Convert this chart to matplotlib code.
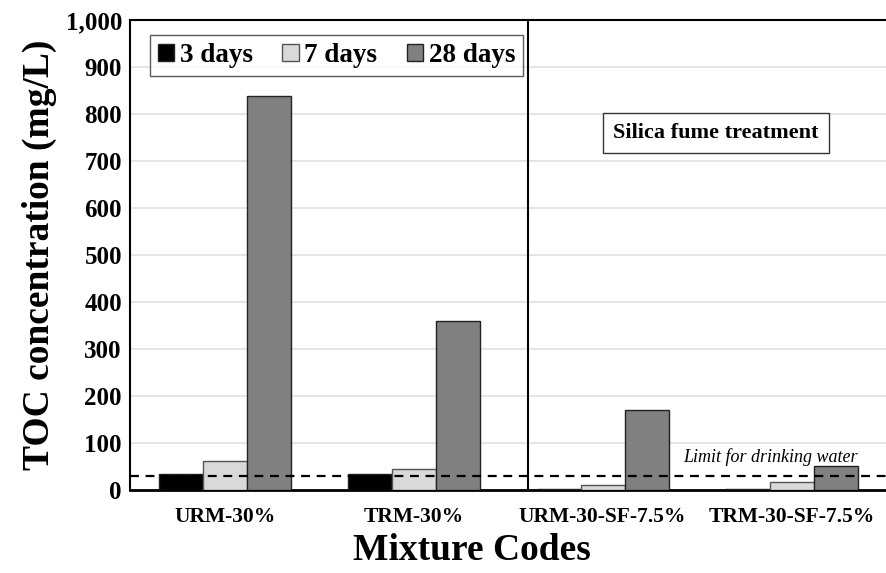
import numpy as np
import matplotlib.pyplot as plt

categories = ['URM-30%', 'TRM-30%', 'URM-30-SF-7.5%', 'TRM-30-SF-7.5%']
day3 = [34, 34, 2, 2]
day7 = [62, 45, 10, 17]
day28 = [838, 360, 170, 51]
limit = 30

plt.rcParams['font.family'] = ['Liberation Serif', 'DejaVu Serif']
plt.rcParams['font.weight'] = 'bold'
plt.rcParams['axes.labelweight'] = 'bold'

fig = plt.figure(figsize=(8.86, 5.73), dpi=100)
ax = fig.add_axes([0.147, 0.145, 0.853, 0.82])

x = np.arange(len(categories))
w = 0.233
ax.bar(x - w, day3, w, color='black', edgecolor='#222222', lw=1, label='3 days', zorder=3)
ax.bar(x, day7, w, color='#d9d9d9', edgecolor='#555555', lw=1, label='7 days', zorder=3)
ax.bar(x + w, day28, w, color='#808080', edgecolor='#222222', lw=1, label='28 days', zorder=3)

ax.axhline(limit, color='black', ls=(0, (4, 3)), lw=1.6, zorder=4)
ax.text(3.35, limit + 20, 'Limit for drinking water', style='italic', fontweight='normal',
        fontsize=13, ha='right', va='bottom')
ax.axvline(1.605, color='black', lw=1.5, zorder=4)

ax.text(2.6, 760, 'Silica fume treatment', fontsize=16, ha='center', va='center',
        bbox=dict(boxstyle='square,pad=0.45', fc='white', ec='#333333', lw=1))

ax.set_xlim(-0.5, 3.5)
ax.set_ylim(0, 1000)
ax.set_yticks(range(0, 1001, 100))
ax.set_yticklabels([f'{v:,}' for v in range(0, 1001, 100)], fontsize=18)
ax.set_xticks(x)
ax.set_xticklabels(categories, fontsize=15.5)
ax.tick_params(axis='x', length=0, pad=12)
ax.tick_params(axis='y', length=0, pad=6)
ax.yaxis.grid(True, color='#e0e0e0', lw=1.2, zorder=0)

ax.spines['right'].set_visible(False)
ax.spines['left'].set_linewidth(1.5)
ax.spines['top'].set_linewidth(1.5)
ax.spines['bottom'].set_linewidth(2)

ax.set_ylabel('TOC concentration (mg/L)', fontsize=27, labelpad=6)
fig.text(0.533, 0.04, 'Mixture Codes', fontsize=27, fontweight='bold', ha='center', va='center')

leg = ax.legend(loc='upper left', bbox_to_anchor=(0.026, 0.968), borderaxespad=0, ncol=3,
                fontsize=19.5, frameon=True, fancybox=False, edgecolor='#333333',
                handlelength=0.6, handleheight=0.6, handletextpad=0.2, columnspacing=1.1,
                borderpad=0.3)
leg.get_frame().set_linewidth(1)

fig.savefig('out.png', dpi=100)
